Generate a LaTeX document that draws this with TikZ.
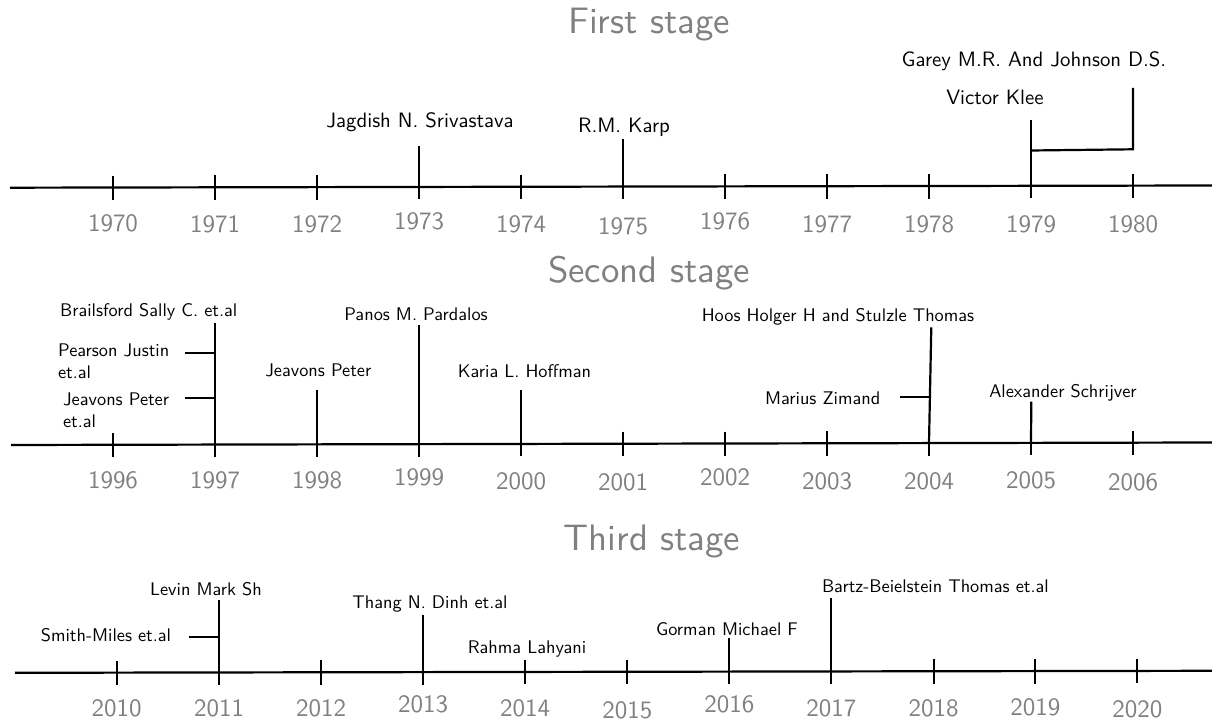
\documentclass[tikz,border=0pt]{standalone}
\usepackage{fontspec}
% one optical size of Latin Modern Sans for every text size
\setsansfont{lmsans10-regular.otf}
\definecolor{yeargray}{RGB}{128,128,128}
\tikzset{
  axisline/.style={line width=1.1pt},
  tickline/.style={line width=1.1pt},
  yearlbl/.style={anchor=base, inner sep=0pt, text=yeargray, font=\sffamily\fontsize{12.5}{15}\selectfont},
  titlelbl/.style={anchor=base, inner sep=0pt, text=yeargray, font=\sffamily\fontsize{18.4}{22}\selectfont},
  namebig/.style={anchor=base, inner sep=0pt, font=\sffamily\fontsize{10.4}{12.5}\selectfont},
  namesmall/.style={anchor=base, inner sep=0pt, font=\sffamily\fontsize{9.15}{10.8}\selectfont},
}
\begin{document}
\begin{tikzpicture}[x=0.5pt,y=-0.5pt]
\useasboundingbox (0,0) rectangle (1212,721);

% ---------------- First stage: 1970--1980 ----------------
\node[titlelbl] (title1) at (649,34) {First stage};
\coordinate (ax1l) at (10,187.7);
\coordinate (ax1r) at (1212,185.5);
\draw[axisline] (ax1l) -- (ax1r);
\foreach \yr/\xx/\bl in {1970/113/232,1971/215/233,1972/317/233,1973/419/230,
  1974/521/233,1975/623/235,1976/725/230,1977/827/233,1978/929/233,1979/1031/233,1980/1133/233}{
  \pgfmathsetmacro\ay{187.7-(\xx-10)*0.00183}
  \coordinate (t\yr) at (\xx,\ay);
  \coordinate (t\yr-up) at (\xx,\ay-12);
  \coordinate (t\yr-dn) at (\xx,\ay+12.5);
  \draw[tickline] (t\yr-up) -- (t\yr-dn);
  \node[yearlbl] (y\yr) at (\xx,\bl) {\yr};
}
\coordinate (l1973) at (419,146);
\draw[tickline] (t1973) -- (l1973);
\node[namebig] (srivastava) at (420,128) {Jagdish N. Srivastava};

\coordinate (l1975) at (623,139.3);
\draw[tickline] (t1975) -- (l1975);
\node[namebig] (karp) at (624,132.5) {R.M. Karp};

\coordinate (l1979) at (1031,120);
\draw[tickline] (t1979) -- (l1979);
\node[namebig] (klee) at (995,105) {Victor Klee};

\coordinate (g1979) at (1031,150.5);
\coordinate (g1980) at (1133,149.3);
\coordinate (l1980) at (1133,88);
\draw[tickline] (g1979) -- (g1980) -- (l1980);
\node[namebig] (garey) at (1034,67) {Garey M.R. And Johnson D.S.};

% ---------------- Second stage: 1996--2006 ----------------
\node[titlelbl] (title2) at (649,283) {Second stage};
\coordinate (ax2l) at (11,445);
\coordinate (ax2r) at (1212,442.5);
\draw[axisline] (ax2l) -- (ax2r);
\foreach \yr/\xx/\bl in {1996/113/489,1997/215/489,1998/317/489,1999/419/486,
  2000/521/490,2001/623/491,2002/725/485.5,2003/827/490,2004/929/490,2005/1031/489,2006/1133/491}{
  \pgfmathsetmacro\ay{445-(\xx-11)*0.00208}
  \coordinate (t\yr) at (\xx,\ay);
  \coordinate (t\yr-up) at (\xx,\ay-12);
  \coordinate (t\yr-dn) at (\xx,\ay+12.5);
  \draw[tickline] (t\yr-up) -- (t\yr-dn);
  \node[yearlbl] (y\yr) at (\xx,\bl) {\yr};
}
\coordinate (l1997) at (215,323.3);
\draw[tickline] (t1997) -- (l1997);
\node[namesmall] (brailsford) at (148.7,316.7) {Brailsford Sally C. et.al};

\node[namesmall, anchor=base west] (pearson) at (57.7,356.7)
  {\begin{tabular}[t]{@{}l@{}}Pearson Justin\\et.al\end{tabular}};
\coordinate (pc-l) at (185,353.3);
\coordinate (pc-r) at (215,353.3);
\draw[tickline] (pc-l) -- (pc-r);

\node[namesmall, anchor=base west] (jeavonsA) at (62.7,405.7)
  {\begin{tabular}[t]{@{}l@{}}Jeavons Peter\\et.al\end{tabular}};
\coordinate (jc-l) at (185,398.3);
\coordinate (jc-r) at (215,398.3);
\draw[tickline] (jc-l) -- (jc-r);

\coordinate (l1998) at (317,390);
\draw[tickline] (t1998) -- (l1998);
\node[namesmall] (jeavonsB) at (318.3,377) {Jeavons Peter};

\coordinate (l1999) at (419,325);
\draw[tickline] (t1999) -- (l1999);
\node[namesmall] (pardalos) at (416,321) {Panos M. Pardalos};

\coordinate (l2000) at (521,390);
\draw[tickline] (t2000) -- (l2000);
\node[namesmall] (hoffman) at (524.5,378) {Karia L. Hoffman};

\coordinate (l2004) at (931.3,327.3);
\draw[tickline] (t2004) -- (l2004);
\node[namesmall] (hoos) at (838,321.7) {Hoos Holger H and Stulzle Thomas};

\node[namesmall] (zimand) at (822.7,404.3) {Marius Zimand};
\coordinate (zc-l) at (900,396.7);
\coordinate (zc-r) at (929.9,396.7);
\draw[tickline] (zc-l) -- (zc-r);

\coordinate (l2005) at (1031.3,401.7);
\draw[tickline] (t2005) -- (l2005);
\node[namesmall] (schrijver) at (1063,397.7) {Alexander Schrijver};

% ---------------- Third stage: 2010--2020 ----------------
\node[titlelbl] (title3) at (652,551) {Third stage};
\coordinate (ax3l) at (15,672.8);
\coordinate (ax3r) at (1212,670.8);
\draw[axisline] (ax3l) -- (ax3r);
\foreach \yr/\xx/\bl in {2010/116.7/716.7,2011/219/716.7,2012/321/716.7,2013/423/712.7,
  2014/525/716.7,2015/627.3/718.5,2016/729.3/712.7,2017/831.3/716.7,2018/933.7/716.7,
  2019/1035.3/716,2020/1137.3/718}{
  \pgfmathsetmacro\ay{672.8-(\xx-15)*0.00167}
  \coordinate (t\yr) at (\xx,\ay);
  \coordinate (t\yr-up) at (\xx,\ay-12);
  \coordinate (t\yr-dn) at (\xx,\ay+12.5);
  \draw[tickline] (t\yr-up) -- (t\yr-dn);
  \node[yearlbl] (y\yr) at (\xx,\bl) {\yr};
}
\coordinate (l2011) at (219,600);
\draw[tickline] (t2011) -- (l2011);
\node[namesmall] (levin) at (206,596) {Levin Mark Sh};

\node[namesmall] (smithmiles) at (106,641.7) {Smith-Miles et.al};
\coordinate (sc-l) at (189.3,636.7);
\coordinate (sc-r) at (219,636.7);
\draw[tickline] (sc-l) -- (sc-r);

\coordinate (l2013) at (423,615);
\draw[tickline] (t2013) -- (l2013);
\node[namesmall] (dinh) at (430,608.3) {Thang N. Dinh et.al};

\node[namesmall] (lahyani) at (527,653.3) {Rahma Lahyani};

\coordinate (l2016) at (729.3,638.3);
\draw[tickline] (t2016) -- (l2016);
\node[namesmall] (gorman) at (727,635.7) {Gorman Michael F};

\coordinate (l2017) at (831.3,598.3);
\draw[tickline] (t2017) -- (l2017);
\node[namesmall] (bartz) at (935.4,592.7) {Bartz-Beielstein Thomas et.al};

\end{tikzpicture}
\end{document}
